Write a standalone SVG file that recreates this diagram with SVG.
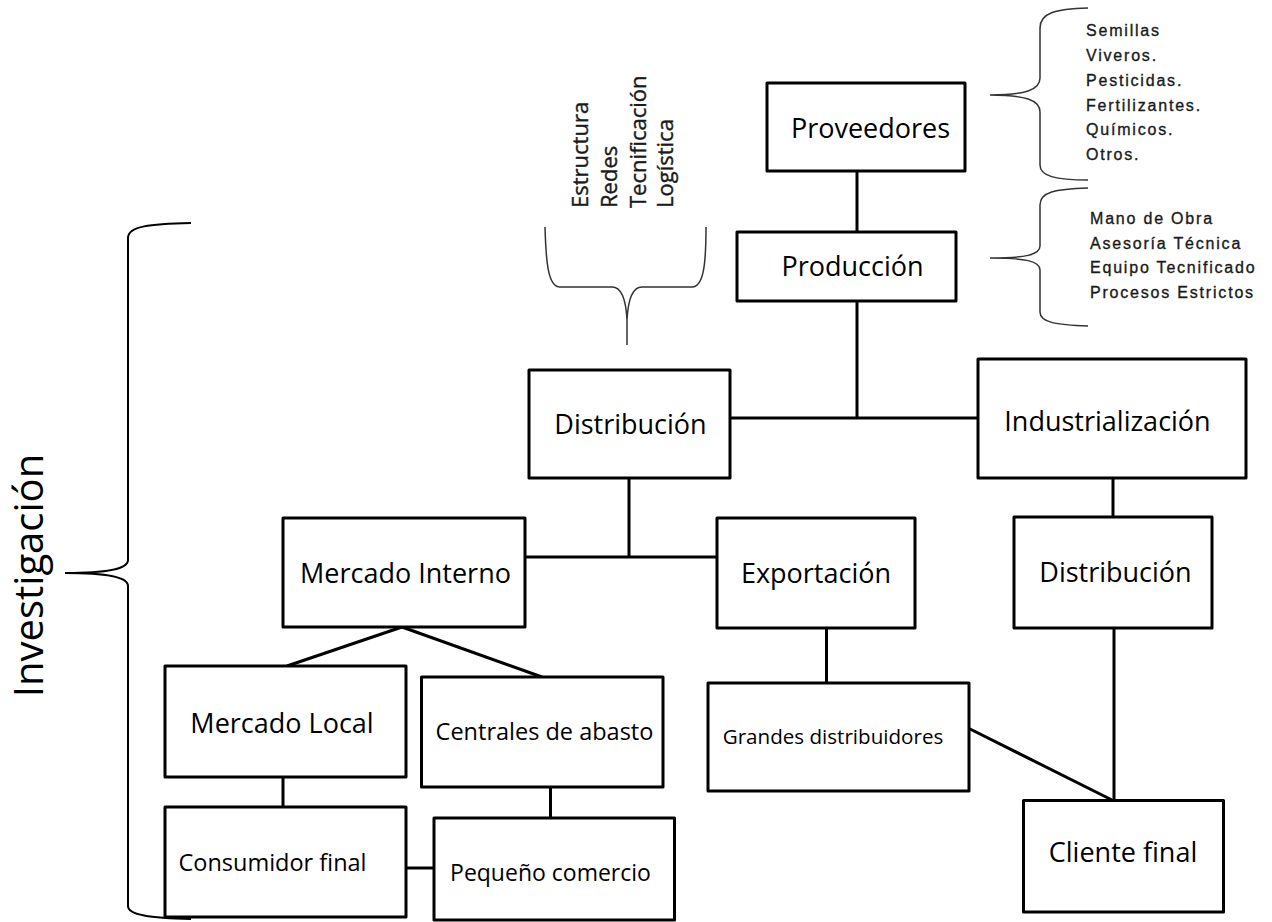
<svg xmlns="http://www.w3.org/2000/svg" width="1272" height="922" viewBox="0 0 1272 922">
<style>
.box{fill:#fff;stroke:#000;stroke-width:3;stroke-linejoin:round}
.lbl{font-family:"Open Sans","Liberation Sans",sans-serif;fill:#000;text-anchor:middle}
.con{stroke:#000;stroke-width:3;fill:none}
.brace{fill:none;stroke:#000;stroke-width:2}
.brace2{fill:none;stroke:#333;stroke-width:1.5}
.list{font-family:"Liberation Sans",Arial,sans-serif;font-size:16px;letter-spacing:1.8px;fill:#1a1a1a;stroke:#1a1a1a;stroke-width:0.35}
.vert{font-family:"Open Sans","Liberation Sans",sans-serif;font-size:22px;fill:#1a1a1a;stroke:#1a1a1a;stroke-width:0.4}
</style>
<rect width="1272" height="922" fill="#fff"/>
<g id="connectors">
<line class="con" x1="857" y1="171" x2="857" y2="232"/>
<line class="con" x1="857" y1="301" x2="857" y2="418"/>
<line class="con" x1="730" y1="418" x2="978" y2="418"/>
<line class="con" x1="1113" y1="478" x2="1113" y2="517"/>
<line class="con" x1="629" y1="478" x2="629" y2="557"/>
<line class="con" x1="525" y1="557" x2="717" y2="557"/>
<line class="con" x1="402" y1="627" x2="287" y2="666"/>
<line class="con" x1="402" y1="627" x2="542" y2="677"/>
<line class="con" x1="283" y1="777" x2="283" y2="807"/>
<line class="con" x1="550.5" y1="787" x2="550.5" y2="818"/>
<line class="con" x1="403" y1="868" x2="434" y2="868"/>
<line class="con" x1="826.5" y1="628" x2="826.5" y2="683"/>
<line class="con" x1="1114" y1="628" x2="1114" y2="801"/>
<line class="con" x1="966" y1="727" x2="1112" y2="800"/>
</g>
<g id="node-proveedores"><rect class="box" x="767" y="83" width="198" height="88"/><text class="lbl" x="870.5" y="138" font-size="27">Proveedores</text></g>
<g id="node-produccion"><rect class="box" x="737" y="232" width="219" height="69"/><text class="lbl" x="852.5" y="276" font-size="27">Producción</text></g>
<g id="node-distribucion"><rect class="box" x="529" y="370" width="201" height="108"/><text class="lbl" x="630.5" y="434" font-size="27">Distribución</text></g>
<g id="node-industrializacion"><rect class="box" x="978" y="359" width="268" height="119"/><text class="lbl" x="1107.5" y="431" font-size="27">Industrialización</text></g>
<g id="node-distribucion2"><rect class="box" x="1014" y="517" width="198" height="111"/><text class="lbl" x="1115.5" y="582" font-size="27">Distribución</text></g>
<g id="node-mercado-interno"><rect class="box" x="283" y="518" width="242" height="109"/><text class="lbl" x="405.5" y="583" font-size="27">Mercado Interno</text></g>
<g id="node-exportacion"><rect class="box" x="717" y="518" width="198" height="110"/><text class="lbl" x="816" y="583" font-size="27">Exportación</text></g>
<g id="node-mercado-local"><rect class="box" x="165" y="666" width="241" height="111"/><text class="lbl" x="282" y="733" font-size="27">Mercado Local</text></g>
<g id="node-centrales"><rect class="box" x="421.5" y="677" width="241.5" height="110"/><text class="lbl" x="544.5" y="740" font-size="23.5">Centrales de abasto</text></g>
<g id="node-consumidor"><rect class="box" x="165" y="807" width="241" height="110"/><text class="lbl" x="272.5" y="870.5" font-size="23.5">Consumidor final</text></g>
<g id="node-pequeno"><rect class="box" x="434" y="818" width="240.5" height="102"/><text class="lbl" x="550.5" y="880.5" font-size="23">Pequeño comercio</text></g>
<g id="node-grandes"><rect class="box" x="708" y="683" width="261" height="108"/><text class="lbl" x="833" y="744" font-size="20.6">Grandes distribuidores</text></g>
<g id="node-cliente"><rect class="box" x="1023.5" y="800.5" width="200" height="111.5"/><text class="lbl" x="1123" y="862" font-size="27">Cliente final</text></g>
<g id="brace-investigacion">
<path class="brace" d="M191,223 C150,224 128,226 128,238 L128,560 C128,569 108,573 65,573 C108,573 128,577 128,586 L128,906 C128,915 150,918 191,919"/>
<text x="43" y="575.5" transform="rotate(-90 43 575.5)" font-family="'Open Sans','Liberation Sans',sans-serif" font-size="40" text-anchor="middle" fill="#000">Investigación</text>
</g>
<g id="brace-proveedores">
<path class="brace2" d="M1088,8 C1055,9 1040,13 1040,28 L1040,78 C1040,90 1025,95 990,95 C1025,95 1040,100 1040,112 L1040,165 C1040,176 1055,180 1088,180"/>
<text class="list" x="1086" y="35.5">Semillas</text>
<text class="list" x="1086" y="60.5">Viveros.</text>
<text class="list" x="1086" y="85.5">Pesticidas.</text>
<text class="list" x="1086" y="110.5">Fertilizantes.</text>
<text class="list" x="1086" y="135">Químicos.</text>
<text class="list" x="1086" y="159.5">Otros.</text>
</g>
<g id="brace-produccion">
<path class="brace2" d="M1088,188 C1055,189 1040,192 1040,205 L1040,246 C1040,255 1025,258 990,258 C1025,258 1040,261 1040,270 L1040,312 C1040,322 1055,325 1088,326"/>
<text class="list" x="1090" y="223.5">Mano de Obra</text>
<text class="list" x="1090" y="248.5">Asesoría Técnica</text>
<text class="list" x="1090" y="273">Equipo Tecnificado</text>
<text class="list" x="1090" y="298">Procesos Estrictos</text>
</g>
<g id="brace-distribucion">
<path class="brace2" d="M545,227 C546,262 548,287 560,287 L612,287 C622,287 626,300 627,320 L627,345 M706,227 C706,262 704,287 692,287 L642,287 C632,287 628,300 627,320"/>
<text class="vert" x="588" y="208" transform="rotate(-90 588 208)">Estructura</text>
<text class="vert" x="617" y="208" transform="rotate(-90 617 208)">Redes</text>
<text class="vert" x="646" y="208" transform="rotate(-90 646 208)">Tecnificación</text>
<text class="vert" x="673" y="208" transform="rotate(-90 673 208)">Logística</text>
</g>
</svg>
